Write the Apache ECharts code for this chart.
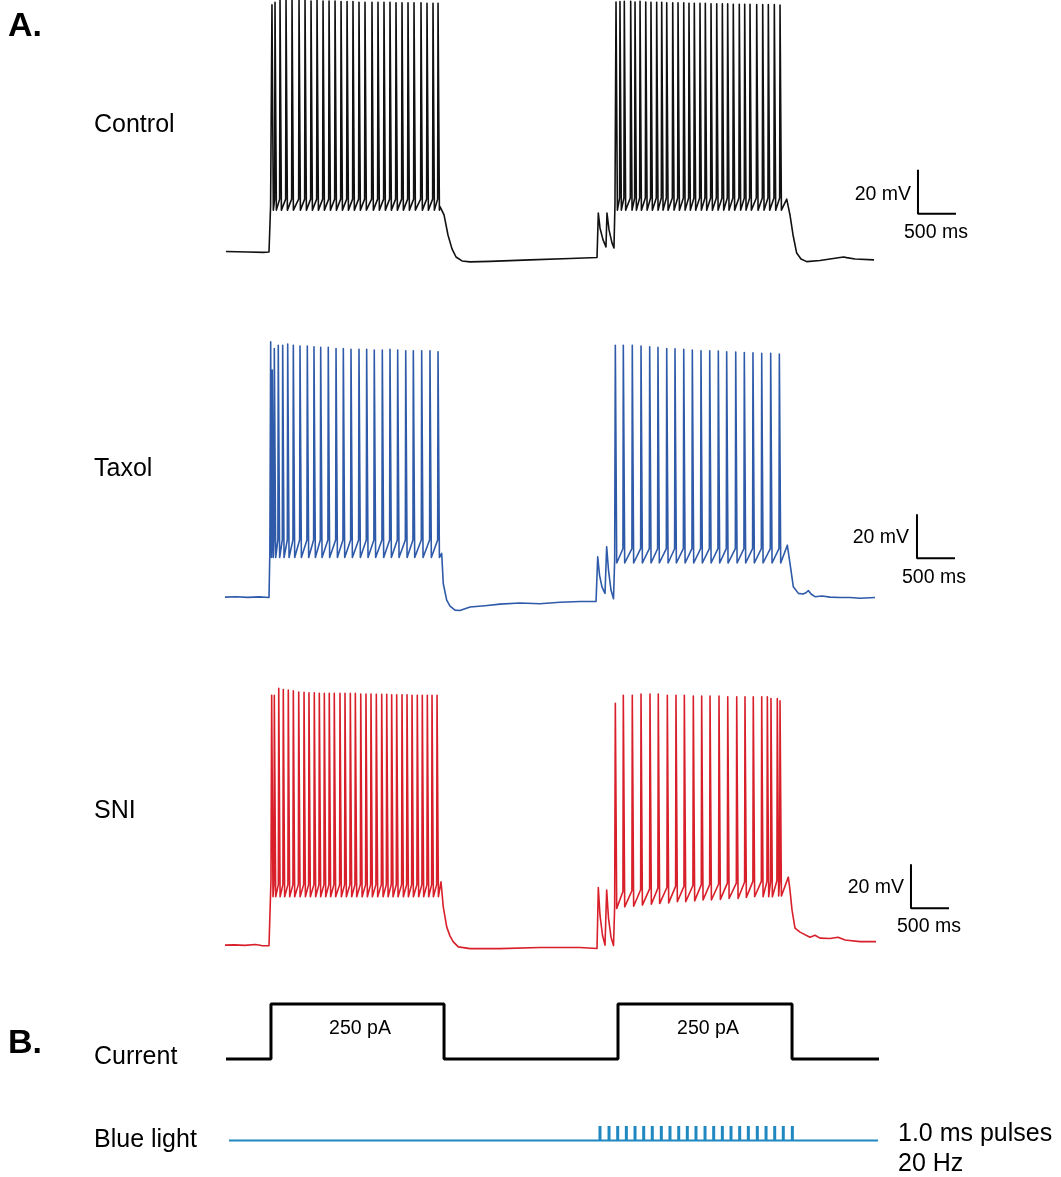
<!DOCTYPE html>
<html>
<head>
<meta charset="utf-8">
<script src="https://cdn.jsdelivr.net/npm/echarts@6/dist/echarts.min.js"></script>
<style>
  html, body { margin: 0; padding: 0; background: #fff; }
  #chart { width: 1061px; height: 1177px; }
</style>
</head>
<body>
<div id="chart"></div>
<script>
// Whole-cell current-clamp recordings: time in ms, membrane potential in mV.
// Each burst: spike times, spike peaks, after-hyperpolarisation trough, ramp to threshold,
// plus the recorded points around the step onset (lead) and offset (tail).

// ---------- Control ----------
const controlPre = [[13, -64.8], [300, -65.0], [500, -65.2], [579, -65.0]];
const controlLead1 = [[600, -44.0]];
const controlSpikes1 = [618, 658, 724, 803, 882, 974, 1053, 1132, 1211, 1290, 1369, 1448, 1527, 1606, 1684, 1763, 1842, 1934, 2013, 2092, 2171, 2250, 2329, 2408, 2487, 2579, 2658, 2737, 2803];
const controlPeaks1 = [47.3, 48.5, 49.5, 49.5, 49.5, 49.3, 49.5, 49.0, 49.3, 49.0, 49.0, 49.0, 48.8, 48.8, 48.8, 48.5, 48.5, 48.5, 48.5, 48.5, 48.5, 48.2, 48.2, 48.2, 48.2, 48.2, 48.0, 48.0, 48.0];
const controlTail1 = [[2829, -44.4], [2882, -48.2], [2934, -57.3], [2987, -63.6], [3040, -67.3], [3118, -69.1], [3224, -69.5], [3487, -69.3], [4013, -68.6], [4540, -68.0], [4895, -67.5]];
const controlLead2 = [[4901, -67.5], [4912, -47.3], [4934, -54.1], [4974, -59.5], [5013, -62.7], [5026, -47.3], [5053, -55.0], [5092, -60.9], [5118, -63.2], [5131, -43.6]];
const controlSpikes2 = [5145, 5197, 5254, 5338, 5395, 5461, 5536, 5605, 5680, 5746, 5812, 5891, 5961, 6036, 6105, 6175, 6250, 6320, 6395, 6470, 6544, 6614, 6688, 6767, 6838, 6908, 6996, 7075, 7149, 7228, 7303];
const controlPeaks2 = [48.6, 48.8, 48.9, 48.9, 48.6, 48.9, 48.6, 48.5, 48.5, 48.5, 48.2, 48.2, 48.2, 48.2, 48.0, 48.0, 48.0, 48.0, 47.8, 47.8, 47.8, 47.8, 47.6, 47.6, 47.6, 47.6, 47.4, 47.4, 47.4, 47.4, 47.2];
const controlTail2 = [[7391, -41.0], [7434, -48.2], [7474, -57.3], [7522, -65.5], [7579, -68.2], [7654, -69.4], [7829, -68.9], [8092, -67.5], [8140, -67.3], [8180, -67.6], [8290, -68.2], [8540, -68.6]];

// ---------- Taxol ----------
const taxolPre = [[0, -65.0], [150, -64.8], [300, -65.1], [450, -64.9], [579, -65.2]];
const taxolLead1 = [[590, -45.0]];
const taxolSpikes1 = [601, 622, 649, 701, 759, 825, 899, 987, 1083, 1171, 1259, 1359, 1461, 1557, 1658, 1763, 1864, 1964, 2070, 2171, 2272, 2378, 2478, 2588, 2697, 2803];
const taxolPeaks1 = [51.0, 38.2, 48.0, 49.5, 49.5, 50.0, 49.5, 49.1, 49.1, 48.8, 48.5, 48.5, 48.0, 48.0, 47.6, 47.6, 47.6, 47.3, 47.3, 47.6, 47.3, 47.0, 47.0, 47.0, 47.0, 46.5];
const taxolTail1 = [[2851, -45.1], [2872, -58.8], [2917, -66.4], [2961, -69.1], [3026, -70.9], [3092, -71.1], [3224, -69.5], [3421, -68.9], [3618, -68.2], [3882, -67.7], [4145, -68.0], [4408, -67.3], [4671, -67.0], [4882, -67.0]];
const taxolLead2 = [[4895, -67.1], [4904, -46.7], [4928, -55.0], [4961, -60.5], [5000, -63.3], [5022, -42.1], [5046, -52.7], [5079, -61.8], [5112, -65.7], [5127, -48.2]];
const taxolSpikes2 = [5136, 5241, 5359, 5474, 5588, 5697, 5812, 5921, 6036, 6149, 6263, 6378, 6491, 6601, 6720, 6833, 6947, 7062, 7180, 7294];
const taxolPeaks2 = [49.5, 49.5, 49.5, 49.1, 48.8, 48.5, 48.0, 47.9, 47.6, 47.3, 47.0, 47.0, 46.8, 46.5, 46.4, 46.2, 46.0, 45.8, 45.8, 45.5];
const taxolTail2 = [[7399, -41.4], [7434, -49.7], [7478, -60.3], [7544, -63.3], [7605, -63.6], [7645, -63.0], [7675, -62.0], [7711, -63.6], [7763, -64.8], [7855, -64.5], [7961, -65.0], [8092, -65.2], [8224, -65.2], [8355, -65.5], [8553, -65.2]];

// ---------- SNI ----------
const sniPre = [[0, -65.0], [120, -64.9], [260, -65.1], [400, -64.7], [480, -65.2], [579, -65.3]];
const sniLead1 = [[605, -35.5]];
const sniSpikes1 = [614, 649, 707, 767, 833, 899, 970, 1040, 1105, 1175, 1241, 1307, 1372, 1438, 1513, 1579, 1649, 1715, 1786, 1855, 1921, 1991, 2062, 2128, 2193, 2259, 2329, 2395, 2461, 2530, 2596, 2662, 2724, 2790];
const sniPeaks1 = [48.6, 48.6, 51.7, 51.2, 50.9, 50.6, 50.0, 49.9, 49.7, 49.7, 49.4, 49.4, 49.4, 49.4, 49.4, 49.4, 49.4, 49.4, 49.1, 49.1, 49.1, 49.0, 49.0, 49.0, 48.8, 48.8, 48.8, 48.8, 48.6, 48.6, 48.6, 48.6, 48.6, 48.6];
const sniTail1 = [[2842, -36.2], [2872, -47.6], [2917, -56.7], [2961, -60.9], [3004, -63.5], [3070, -65.8], [3224, -66.6], [3618, -66.6], [4145, -66.1], [4671, -66.1], [4895, -66.5]];
const sniLead2 = [[4904, -66.5], [4912, -38.8], [4934, -51.4], [4967, -60.5], [5000, -65.0], [5022, -40.0], [5046, -52.7], [5079, -61.4], [5112, -65.2], [5127, -47.6]];
const sniSpikes2 = [5136, 5241, 5359, 5474, 5592, 5701, 5820, 5934, 6044, 6162, 6272, 6382, 6500, 6615, 6733, 6842, 6951, 7062, 7136, 7184, 7267, 7303];
const sniPeaks2 = [44.9, 48.6, 48.6, 49.1, 49.1, 49.1, 48.6, 48.6, 48.6, 48.2, 48.2, 48.2, 48.2, 47.9, 47.9, 47.9, 47.9, 47.9, 47.9, 47.1, 47.1, 46.0];
const sniAhp2 = [-48.3, -47.6, -47.3, -46.8, -46.4, -46.1, -45.8, -45.3, -45.3, -44.9, -44.5, -44.5, -44.2, -43.8, -43.8, -43.3, -43.0, -43.0, -43.0, -43.0, -42.7, -42.7];
const sniTail2 = [[7412, -34.1], [7434, -40.0], [7461, -49.1], [7500, -57.3], [7566, -59.1], [7697, -61.4], [7763, -60.5], [7829, -61.8], [7961, -62.0], [8066, -61.4], [8158, -62.7], [8355, -63.4], [8566, -63.4]];

// ---------- Stimulus protocol ----------
const currentSpan = [13, 8605];          // ms
const currentOnsets = [605, 5171];       // ms
const currentOffsets = [2882, 7461];     // ms
const currentAmp = 250;                  // pA
const lightSpan = [53, 8592];            // ms
const lightPulseTimes = [4934, 5053, 5167, 5281, 5395, 5509, 5622, 5741, 5855, 5970, 6083, 6197, 6316, 6430, 6544, 6658, 6772, 6886, 7004, 7119, 7233, 7346, 7465];

// ---------- Scale bars ----------
const scaleMv = 20;
const scaleMs = 500;
const scaleCorners = [[9118, -47.7], [9105, -47.3], [9026, -48.2]];

// ---------- waveform assembly ----------
const RISE = 5, FALL = 18;
function traceData(pre, bursts) {
  const pts = pre.slice();
  bursts.forEach(b => {
    pts.push(...b.lead);
    b.times.forEach((t, i) => {
      const ahp = Array.isArray(b.ahp) ? b.ahp[i] : b.ahp;
      if (i > 0) {
        const tPre = t - RISE;
        if (tPre > pts[pts.length - 1][0]) pts.push([tPre, ahp + b.ramp]);
      }
      pts.push([t, b.peaks[i]]);
      const next = i + 1 < b.times.length ? b.times[i + 1] : t + 100;
      pts.push([t + Math.min(FALL, (next - t) * 0.5), ahp]);
    });
    pts.push(...b.tail);
  });
  return pts;
}

const traces = [
  { name: 'Control', color: '#111111', data: traceData(controlPre, [
      { lead: controlLead1, times: controlSpikes1, peaks: controlPeaks1, ahp: -46, ramp: 5, tail: controlTail1 },
      { lead: controlLead2, times: controlSpikes2, peaks: controlPeaks2, ahp: -46, ramp: 5.5, tail: controlTail2 }]) },
  { name: 'Taxol', color: '#2e5aa9', data: traceData(taxolPre, [
      { lead: taxolLead1, times: taxolSpikes1, peaks: taxolPeaks1, ahp: -47, ramp: 8, tail: taxolTail1 },
      { lead: taxolLead2, times: taxolSpikes2, peaks: taxolPeaks2, ahp: -49.5, ramp: 6.5, tail: taxolTail2 }]) },
  { name: 'SNI', color: '#d81f2a', data: traceData(sniPre, [
      { lead: sniLead1, times: sniSpikes1, peaks: sniPeaks1, ahp: -43, ramp: 5.5, tail: sniTail1 },
      { lead: sniLead2, times: sniSpikes2, peaks: sniPeaks2, ahp: sniAhp2, ramp: 7, tail: sniTail2 }]) }
];

function currentData() {
  const pts = [[currentSpan[0], 0]];
  currentOnsets.forEach((on, i) => {
    pts.push([on, 0], [on, currentAmp], [currentOffsets[i], currentAmp], [currentOffsets[i], 0]);
  });
  pts.push([currentSpan[1], 0]);
  return pts;
}

// ---------- layout ----------
const FONT = '"Liberation Sans", Arial, Helvetica, sans-serif';
const X_MAX = 9671;
const gridBox = [
  { top: 0, height: 290 },
  { top: 330, height: 290 },
  { top: 680, height: 290 },
  { top: 993, height: 77 },
  { top: 1126, height: 29 }
];
const yRanges = [[-82.3, 49.5], [-75.4, 56.4], [-76.3, 55.5], [-50, 300], [-1, 1]];

const grid = gridBox.map(g => ({ left: 225, width: 735, top: g.top, height: g.height }));
const xAxis = gridBox.map((g, i) => ({ type: 'value', gridIndex: i, min: 0, max: X_MAX, show: false }));
const yAxis = yRanges.map((r, i) => ({ type: 'value', gridIndex: i, min: r[0], max: r[1], show: false }));

const series = [];
traces.forEach((tr, i) => {
  series.push({
    type: 'line', name: tr.name, xAxisIndex: i, yAxisIndex: i, data: tr.data,
    symbol: 'none', silent: true, animation: false,
    lineStyle: { color: tr.color, width: 1.6, join: 'round' }
  });
  const c = scaleCorners[i];
  series.push({
    type: 'line', xAxisIndex: i, yAxisIndex: i, symbol: 'none', silent: true, animation: false, clip: false,
    data: [[c[0], c[1] + scaleMv], [c[0], c[1]], [c[0] + scaleMs, c[1]]],
    lineStyle: { color: '#000', width: 2 }
  });
});
series.push({
  type: 'line', xAxisIndex: 3, yAxisIndex: 3, data: currentData(), symbol: 'none', silent: true, animation: false,
  lineStyle: { color: '#000', width: 3 }
});
series.push({
  type: 'line', xAxisIndex: 4, yAxisIndex: 4, data: [[lightSpan[0], 0], [lightSpan[1], 0]],
  symbol: 'none', silent: true, animation: false, lineStyle: { color: '#1f88c0', width: 2 }
});
series.push({
  type: 'bar', xAxisIndex: 4, yAxisIndex: 4, data: lightPulseTimes.map(t => [t, 1]),
  barWidth: 3, silent: true, animation: false, itemStyle: { color: '#1f88c0' }
});

function label(x, y, text, size, opts) {
  opts = opts || {};
  return {
    type: 'text', x: x, y: y, silent: true,
    style: {
      text: text, fill: '#000', font: (opts.bold ? 'bold ' : '') + size + 'px ' + FONT,
      textAlign: opts.align || 'left', textVerticalAlign: 'middle',
      align: opts.align || 'left', verticalAlign: 'middle'
    }
  };
}

const graphics = [
  label(8, 27, 'A.', 34, { bold: true }),
  label(8, 1044, 'B.', 34, { bold: true }),
  label(94, 125, 'Control', 25),
  label(94, 469, 'Taxol', 25),
  label(94, 811, 'SNI', 25),
  label(94, 1057, 'Current', 25),
  label(94, 1140, 'Blue light', 25),
  label(898, 1134, '1.0 ms pulses', 25),
  label(898, 1164, '20 Hz', 25),
  label(360, 1029, currentAmp + ' pA', 19.5, { align: 'center' }),
  label(708, 1029, currentAmp + ' pA', 19.5, { align: 'center' }),
  label(911, 195, scaleMv + ' mV', 19.5, { align: 'right' }),
  label(936, 233, scaleMs + ' ms', 19.5, { align: 'center' }),
  label(909, 538, scaleMv + ' mV', 19.5, { align: 'right' }),
  label(934, 578, scaleMs + ' ms', 19.5, { align: 'center' }),
  label(904, 888, scaleMv + ' mV', 19.5, { align: 'right' }),
  label(929, 927, scaleMs + ' ms', 19.5, { align: 'center' })
];

const chart = echarts.init(document.getElementById('chart'), null, { renderer: 'canvas' });
chart.setOption({
  backgroundColor: '#fff',
  animation: false,
  grid: grid,
  xAxis: xAxis,
  yAxis: yAxis,
  series: series,
  graphic: graphics
});
</script>
</body>
</html>
